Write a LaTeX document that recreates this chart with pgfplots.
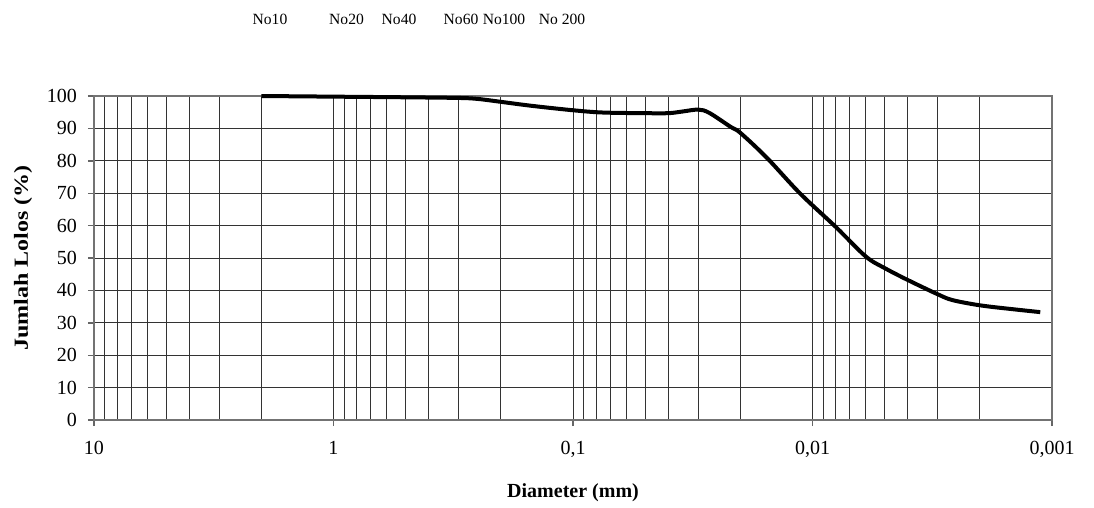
\documentclass[border=0pt]{standalone}
\usepackage{fontspec}
\setmainfont{Liberation Serif}
\usepackage{pgfplots}
\pgfplotsset{compat=1.18}
\begin{document}
\begin{tikzpicture}
\begin{axis}[
    scale only axis,
    width=479pt, height=162pt,
    xmode=log, log basis x=10, x dir=reverse,
    xmin=0.001, xmax=10,
    ymin=0, ymax=100,
    xtick={10,1,0.1,0.01,0.001},
    xticklabels={10,1,{0,1},{0,01},{0,001}},
    minor xtick={9,8,7,6,5,4,3,2,
                 0.9,0.8,0.7,0.6,0.5,0.4,0.3,0.2,
                 0.09,0.08,0.07,0.06,0.05,0.04,0.03,0.02,
                 0.009,0.008,0.007,0.006,0.005,0.004,0.003,0.002},
    ytick={0,10,...,100},
    tick pos=left,
    /pgf/number format/assume math mode=true,
    tick label style={font=\fontsize{10}{12}\selectfont},
    xticklabel style={anchor=base, yshift=-14pt},
    yticklabel style={xshift=-2pt},
    tick align=outside,
    major tick length=3pt,
    minor tick length=0pt,
    tick style={black!60, line width=0.7pt},
    xmajorgrids, xminorgrids, ymajorgrids,
    major grid style={black!80, line width=0.5pt},
    minor grid style={black!80, line width=0.5pt},
    axis line style={black!55, line width=1pt},
    xlabel={Diameter (mm)},
    ylabel={\scalebox{1.2}[1]{Jumlah Lolos (\%)}},
    label style={font=\fontsize{10}{12}\selectfont\bfseries},
    xlabel style={at={(axis description cs:0.5,-0.2377)}, anchor=base},
    ylabel style={at={(axis description cs:-0.0741,0.5)}, anchor=center},
    clip=false,
]
\addplot[black, line width=2pt, smooth, tension=0.55] coordinates {
    (2.0,100) (1.0,99.8) (0.5,99.6) (0.3,99.4) (0.25,99.1) (0.2,98.2)
    (0.15,97.0) (0.1,95.6) (0.075,94.9) (0.05,94.7) (0.04,94.7)
    (0.035,95.2) (0.03,95.8) (0.027,94.8) (0.022,90.5) (0.02,88.6)
    (0.0155,80.9) (0.0113,70) (0.008,59.6) (0.006,50.5)
    (0.005,46.9) (0.004,43.2) (0.003,38.8) (0.0026,37.0) (0.002,35.4)
    (0.0015,34.3) (0.00112,33.3)
};
% sieve numbers above the chart
\begin{scope}[every node/.style={anchor=base, font=\fontsize{7.8}{9}\selectfont}]
\node at (rel axis cs:0.1837,1.2222) {No10};
\node at (rel axis cs:0.2636,1.2222) {No20};
\node at (rel axis cs:0.3184,1.2222) {No40};
\node at (rel axis cs:0.3831,1.2222) {No60};
\node at (rel axis cs:0.4280,1.2222) {No100};
\node at (rel axis cs:0.4885,1.2222) {No 200};
\end{scope}
% page size as in the reference
\path (rel axis cs:-0.0981,-0.2531) rectangle (rel axis cs:1.0438,1.2963);
\end{axis}
\end{tikzpicture}
\end{document}
